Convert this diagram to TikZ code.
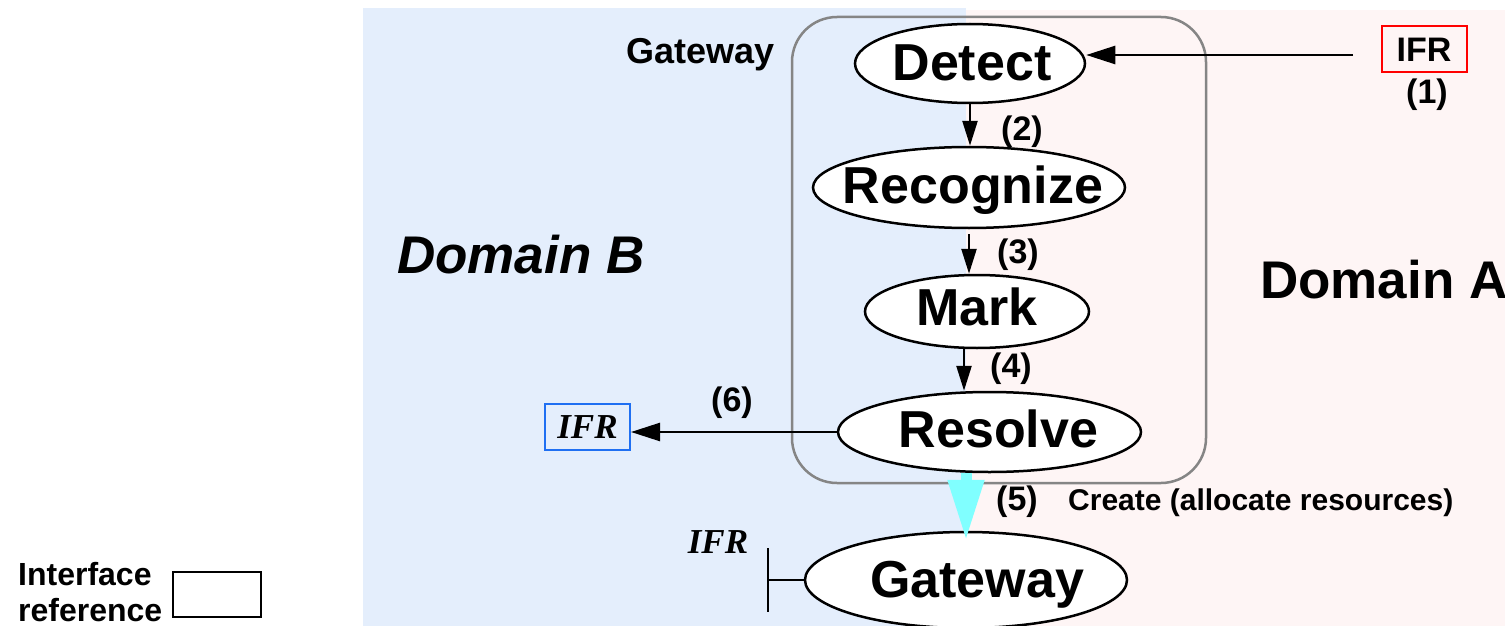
\documentclass[tikz,border=0pt]{standalone}
\usepackage{fontspec}
\setmainfont{Liberation Sans}
\newfontfamily\ifrserif{Liberation Serif}
\usetikzlibrary{shapes.geometric,arrows.meta,calc}

\definecolor{domBbg}{HTML}{E4EEFC}
\definecolor{domAbg}{HTML}{FEF5F5}
\definecolor{ifrblue}{HTML}{1F6FF2}
\definecolor{createcyan}{HTML}{80FFFF}
\definecolor{gwgray}{HTML}{858585}

\tikzset{
  bubble/.style={ellipse, draw=black, line width=2.5pt, fill=white, inner sep=0pt},
  biglabel/.style={font=\fontsize{52}{60}\selectfont\bfseries, inner sep=0pt, anchor=base},
  stepnum/.style={font=\fontsize{34}{36}\selectfont\bfseries, inner sep=0pt},
  vflow/.style={line width=2.5pt, -{Triangle[length=25pt,width=15pt]}},
  hflow/.style={line width=2.5pt, -{Triangle[length=29pt,width=18pt]}},
  ifrbox/.style={draw, line width=2pt, inner sep=0pt, minimum width=85pt, minimum height=46pt},
  ifrsans/.style={font=\fontsize{34}{36}\selectfont\bfseries},
  ifrital/.style={font=\ifrserif\fontsize{35}{38}\selectfont\bfseries\itshape},
  createarrow/.style={draw=createcyan, line width=11pt, -{Triangle[length=61pt,width=34pt]}},
  plain/.style={line width=2.5pt}
}

\begin{document}
\begin{tikzpicture}[x=1pt,y=-1pt]
\useasboundingbox (0,0) rectangle (1505,626);

% domain backgrounds
\fill[domBbg] (363,8) rectangle (966,626);
\fill[domAbg] (966,10) rectangle (1505,626);

% gateway enclosure
\draw[gwgray, line width=2.5pt, rounded corners=45pt] (792,17) rectangle (1206,483);

% processing stages
\node[bubble, minimum width=230pt, minimum height=79pt] (detect) at (970,63.5) {};
\node[bubble, minimum width=312pt, minimum height=81pt] (recognize) at (969,187.5) {};
\node[bubble, minimum width=224pt, minimum height=73pt] (mark) at (977,311.5) {};
\node[bubble, minimum width=303pt, minimum height=80pt] (resolve) at (989.5,432) {};
\node[bubble, minimum width=322pt, minimum height=96pt] (gateway) at (966,580) {};

\node[biglabel] (detectT) at ($(detect)+(2,17)$) {Detect};
\node[biglabel] (recognizeT) at ($(recognize)+(4,16)$) {Recognize};
\node[biglabel] (markT) at ($(mark)+(0,14)$) {Mark};
\node[biglabel] (resolveT) at ($(resolve)+(9,15)$) {Resolve};
\node[biglabel] (gatewayT) at ($(gateway)+(11,17)$) {Gateway};

% interface references
\node[ifrbox, draw=red, ifrsans] (ifrA) at (1424,49.5) {IFR};
\node[ifrbox, draw=ifrblue, ifrital] (ifrB) at (587.5,427) {IFR};
\coordinate (ifrFeed) at (1353,55);

% flow between stages
\draw[hflow] (ifrFeed) -- (ifrFeed -| detect.east);
\draw[vflow] (detect.south) -- (detect.south |- recognize.north);
\draw[vflow] ([yshift=-5pt]recognize.south) -- (recognize.south |- mark.north);
\draw[vflow] ([xshift=-13pt]mark.south) -- ([xshift=-13pt]mark.south |- resolve.north);
\draw[hflow] (resolve.west) -- (resolve.west -| ifrB.east);
\draw[createarrow] (resolve.south -| gateway.north) -- ([yshift=-10pt]gateway.north);

% step numbers
\node[stepnum] (n1) at (1427,95) {(1)};
\node[stepnum] (n2) at (1022,132) {(2)};
\node[stepnum] (n3) at (1018,255) {(3)};
\node[stepnum] (n4) at (1011,369) {(4)};
\node[stepnum] (n5) at (1017,502) {(5)};
\node[stepnum] (n6) at (732,403) {(6)};

\node[font=\fontsize{30}{32}\selectfont\bfseries, anchor=base west, inner sep=0pt] (create) at (1068,510) {Create (allocate resources)};

% domain and gateway titles
\node[font=\fontsize{53}{58}\selectfont\bfseries\itshape, anchor=base west, inner sep=0pt] (domB) at (397,273) {Domain B};
\node[font=\fontsize{53}{58}\selectfont\bfseries, anchor=base west, inner sep=0pt] (domA) at (1260,298) {Domain A};
\node[font=\fontsize{36}{40}\selectfont\bfseries, anchor=base east, inner sep=0pt] (gwTitle) at (775,64) {Gateway};

% interface stub of the created gateway
\coordinate (tbarTop) at (768,548);
\coordinate (tbarBot) at (768,612);
\draw[plain] (tbarTop) -- (tbarBot);
\draw[plain] (gateway.west) -- (gateway.west -| tbarTop);
\node[ifrital, anchor=base, inner sep=0pt] (ifrC) at (718,553) {IFR};

% legend
\node[font=\fontsize{32}{34}\selectfont\bfseries, anchor=base west, inner sep=0pt] (legA) at (18,585) {Interface};
\node[font=\fontsize{32}{34}\selectfont\bfseries, anchor=base west, inner sep=0pt] (legB) at (18,621) {reference};
\node[draw, line width=2pt, minimum width=88pt, minimum height=45pt, inner sep=0pt] (legBox) at (217,594.5) {};
\end{tikzpicture}
\end{document}
